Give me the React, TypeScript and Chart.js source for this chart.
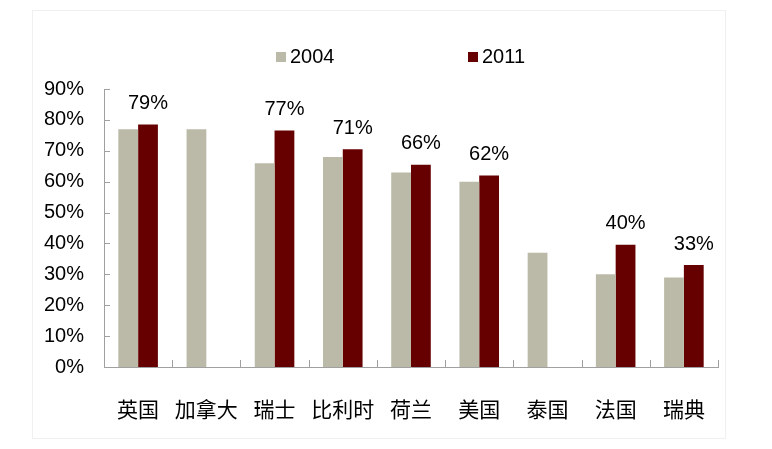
import React, { useEffect, useRef } from 'react';
import { Chart, registerables } from 'chart.js';

Chart.register(...registerables);

const categories = ['英国', '加拿大', '瑞士', '比利时', '荷兰', '美国', '泰国', '法国', '瑞典'];
const seriesNames = ['2004', '2011'];
const values2004 = [77, 77, 66, 68, 63, 60, 37, 30, 29];
const values2011 = [78.5, null, 76.6, 70.5, 65.5, 62, null, 39.6, 33];
const yTicks = [0, 10, 20, 30, 40, 50, 60, 70, 80, 90];

const GRAY = '#BBBAA8';
const DARK = '#660000';
const AXIS = '#A0A0A0';
const LATIN = '"Liberation Sans", Arial, sans-serif';
const CJK = '"Noto Sans CJK SC", sans-serif';

// faint frame around the whole picture
const framePlugin = {
  id: 'frame',
  beforeDraw(chart) {
    const ctx = chart.ctx;
    ctx.save();
    ctx.strokeStyle = '#f0f0f0';
    ctx.lineWidth = 1;
    ctx.strokeRect(32.5, 10.5, 693, 428);
    ctx.restore();
  },
};

// inward tick marks on both axes
const ticksPlugin = {
  id: 'innerTicks',
  afterDraw(chart) {
    const { ctx, chartArea, scales } = chart;
    ctx.save();
    ctx.strokeStyle = AXIS;
    ctx.lineWidth = 1;
    ctx.beginPath();
    yTicks.forEach((v) => {
      const y = Math.round(scales.y.getPixelForValue(v)) + 0.5;
      ctx.moveTo(chartArea.left, y);
      ctx.lineTo(chartArea.left + 6, y);
    });
    const step = (chartArea.right - chartArea.left) / categories.length;
    for (let i = 1; i <= categories.length; i++) {
      const x = Math.round(chartArea.left + i * step) + 0.5;
      ctx.moveTo(x, chartArea.bottom);
      ctx.lineTo(x, chartArea.bottom - 7);
    }
    ctx.stroke();
    ctx.restore();
  },
};

// value labels above the 2011 bars
const labelsPlugin = {
  id: 'valueLabels',
  afterDatasetsDraw(chart) {
    const ctx = chart.ctx;
    const meta = chart.getDatasetMeta(1);
    ctx.save();
    ctx.font = `20px ${LATIN}`;
    ctx.fillStyle = '#000';
    ctx.textAlign = 'center';
    ctx.textBaseline = 'middle';
    meta.data.forEach((el, i) => {
      const v = values2011[i];
      if (v == null) return;
      ctx.fillText(`${Math.round(v)}%`, el.x, el.y - 21);
    });
    ctx.restore();
  },
};

// legend with widely spaced items
const legendPlugin = {
  id: 'customLegend',
  afterDraw(chart) {
    const ctx = chart.ctx;
    const starts = [276, 468];
    ctx.save();
    ctx.font = `20px ${LATIN}`;
    ctx.textBaseline = 'middle';
    ctx.textAlign = 'left';
    chart.data.datasets.forEach((ds, i) => {
      ctx.fillStyle = ds.backgroundColor;
      ctx.fillRect(starts[i], 52, 10, 10);
      ctx.fillStyle = '#000';
      ctx.fillText(ds.label, starts[i] + 14, 57);
    });
    ctx.restore();
  },
};

const BarChart = () => {
  const canvasRef = useRef(null);

  useEffect(() => {
    document.body.style.margin = '0';
    const chart = new Chart(canvasRef.current, {
      type: 'bar',
      data: {
        labels: categories,
        datasets: [
          { label: seriesNames[0], data: values2004, backgroundColor: GRAY },
          { label: seriesNames[1], data: values2011, backgroundColor: DARK },
        ],
      },
      options: {
        animation: false,
        responsive: true,
        maintainAspectRatio: false,
        layout: { padding: { top: 89, right: 54, bottom: 0, left: 0 } },
        datasets: { bar: { categoryPercentage: 0.58, barPercentage: 1.0 } },
        plugins: {
          legend: { display: false },
          tooltip: { enabled: false },
        },
        scales: {
          x: {
            grid: { display: false },
            border: { display: true, color: AXIS, width: 1 },
            ticks: { color: '#000', font: { family: CJK, size: 21 }, padding: 21, maxRotation: 0 },
            afterFit: (scale) => { scale.height = 82; },
          },
          y: {
            min: 0,
            max: 90,
            grid: { display: false },
            border: { display: true, color: AXIS, width: 1 },
            ticks: {
              stepSize: 10,
              color: '#000',
              font: { family: LATIN, size: 20 },
              padding: 12,
              callback: (v) => `${v}%`,
            },
            afterFit: (scale) => { scale.width = 104; },
          },
        },
      },
      plugins: [framePlugin, ticksPlugin, labelsPlugin, legendPlugin],
    });
    return () => chart.destroy();
  }, []);

  return (
    <div style={{ width: 772, height: 449, position: 'relative' }}>
      <canvas ref={canvasRef} />
    </div>
  );
};

export default function App() {
  return <BarChart />;
}
